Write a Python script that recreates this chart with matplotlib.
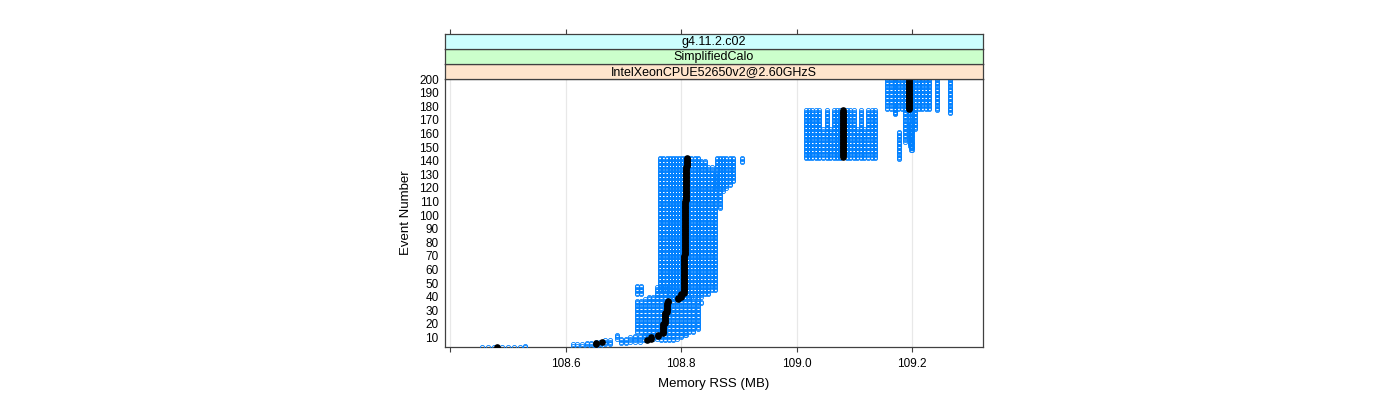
import numpy as np
import matplotlib
matplotlib.use('Agg')
import matplotlib.pyplot as plt

plt.rcParams['font.family'] = ['Liberation Sans', 'DejaVu Sans']

# blue runs: each column = (memory MB, first event, last event)
blue_x = [108.455, 108.465, 108.475, 108.490, 108.500, 108.510, 108.520, 108.530,
          # low block
          108.612, 108.620, 108.628, 108.636, 108.644, 108.652, 108.660, 108.668,
          108.676, 108.688, 108.696, 108.704, 108.712, 108.720, 108.728, 108.736,
          # block C
          108.723, 108.723, 108.730, 108.730, 108.737, 108.744, 108.751, 108.758,
          108.765, 108.772, 108.779, 108.786, 108.793, 108.800, 108.807, 108.814,
          108.821, 108.829, 108.835, 108.809,
          # block D
          108.763, 108.769, 108.775, 108.781, 108.786, 108.791, 108.796, 108.801,
          108.806, 108.811, 108.817, 108.823, 108.829, 108.835, 108.841, 108.847,
          108.853, 108.858, 108.862, 108.867, 108.872, 108.878, 108.884, 108.889,
          108.905,
          # block E
          109.016, 109.021, 109.026, 109.034, 109.039, 109.046, 109.052, 109.058,
          109.064, 109.070, 109.076, 109.087, 109.093, 109.099, 109.105, 109.111,
          109.117, 109.124, 109.130, 109.135,
          # block F
          109.157, 109.163, 109.170, 109.176, 109.182, 109.188, 109.200, 109.206,
          109.212, 109.218, 109.224, 109.230, 109.244, 109.265, 109.178, 109.196,
          109.199, 109.171]
blue_start = [3, 3, 3, 3, 3, 3, 3, 3,
              4, 4, 4, 4, 4, 4, 4, 5, 5, 9, 6, 6, 7, 7, 7, 8,
              14, 42, 14, 42, 12, 10, 9, 9, 8, 8, 8, 8, 9, 10, 12, 14,
              14, 16, 35, 12,
              45, 45, 45, 40, 40, 40, 40, 40, 40, 40, 40, 40, 40, 40, 42, 42,
              45, 45, 120, 105, 118, 120, 122, 125, 139,
              142, 142, 142, 142, 142, 142, 142, 142, 142, 142, 142, 142, 142, 142, 142, 142,
              142, 142, 142, 142,
              178, 178, 175, 178, 178, 154, 148, 163, 178, 178, 178, 178, 177, 175, 141, 151,
              148, 174]
blue_end = [3, 3, 3, 3, 3, 3, 3, 4,
            5, 5, 5, 6, 6, 7, 7, 8, 8, 12, 9, 9, 10, 11, 11, 12,
            37, 48, 37, 48, 38, 40, 40, 47, 47, 47, 47, 45, 45, 42, 42, 40,
            38, 38, 36, 13,
            142, 142, 142, 142, 142, 142, 142, 142, 142, 142, 142, 142, 142, 140, 140, 135,
            135, 130, 142, 142, 142, 142, 142, 142, 142,
            177, 177, 177, 177, 177, 163, 177, 163, 177, 177, 177, 177, 177, 177, 163, 177,
            163, 177, 177, 177,
            200, 200, 200, 200, 200, 200, 200, 200, 200, 200, 200, 200, 200, 200, 161, 178,
            167, 200]

# black (median) run
black_x = [108.480, 108.653, 108.662, 108.740, 108.748, 108.760, 108.768, 108.771,
           108.775, 108.777, 108.794, 108.800, 108.805, 108.806, 108.808, 108.810,
           109.081, 109.194]
black_start = [3, 5, 7, 8, 9, 11, 13, 21, 29, 36, 38, 40, 43, 71, 111, 136, 143, 178]
black_end = [3, 6, 7, 8, 10, 12, 20, 28, 35, 37, 39, 42, 70, 110, 135, 142, 177, 200]

strips = ['IntelXeonCPUE52650v2@2.60GHzS', 'SimplifiedCalo', 'g4.11.2.c02']
strip_cols = ['#ffe5cc', '#ccffcc', '#ccffff']

xticks = [108.4, 108.6, 108.8, 109.0, 109.2]
xlabels = ['', '108.6', '108.8', '109.0', '109.2']
yticks = list(range(10, 201, 10))

W, H = 1400, 400
fig = plt.figure(figsize=(14, 4), dpi=100)
L, R, T, B = 445, 983, 79, 347
ax = fig.add_axes([L / W, 1 - B / H, (R - L) / W, (B - T) / H])

bx, by = [], []
for x, s, e in zip(blue_x, blue_start, blue_end):
    ev = np.arange(s, e + 1)
    bx.extend([x] * len(ev))
    by.extend(ev)
ax.plot(bx, by, 'o', ms=3.0, mfc='none', mec='#0080ff', mew=0.6, zorder=3)

kx, ky = [], []
for x, s, e in zip(black_x, black_start, black_end):
    ev = np.arange(s, e + 1)
    kx.extend([x] * len(ev))
    ky.extend(ev)
ax.plot(kx, ky, 'o', ms=4.8, color='black', mew=0, zorder=4)

for t in xticks:
    ax.axvline(t, color='#e8e8e8', lw=0.9, zorder=1)

ax.set_xlim(108.3905, 109.323)
ax.set_ylim(3, 200)
ax.set_xticks(xticks)
ax.set_xticklabels(xlabels, fontsize=8.5)
ax.set_yticks(yticks)
ax.set_yticklabels([str(v) for v in yticks], fontsize=8.5)
ax.tick_params(axis='x', length=3.6, width=0.8, color='#404040', pad=4)
ax.tick_params(axis='y', length=0, pad=4.5)
for sp in ax.spines.values():
    sp.set_color('#404040')
    sp.set_linewidth(0.9)
ax.set_xlabel('Memory RSS (MB)', fontsize=9.5, labelpad=6)
ax.set_ylabel('Event Number', fontsize=9.5, labelpad=5)

# strips
sh = 15
for i, (txt, c) in enumerate(zip(strips, strip_cols)):
    top = T - sh * (i + 1)
    sax = fig.add_axes([L / W, 1 - (top + sh) / H, (R - L) / W, sh / H])
    sax.set_facecolor(c)
    sax.set_xlim(ax.get_xlim())
    sax.set_yticks([])
    sax.text(0.5, 0.45, txt, transform=sax.transAxes, ha='center', va='center', fontsize=9)
    for sp in sax.spines.values():
        sp.set_color('#404040')
        sp.set_linewidth(0.9)
    if i == len(strips) - 1:
        sax.xaxis.tick_top()
        sax.set_xticks(xticks)
        sax.set_xticklabels([])
        sax.tick_params(axis='x', length=3.6, width=0.8, color='#404040')
    else:
        sax.set_xticks([])

fig.savefig('out.png', dpi=100)
